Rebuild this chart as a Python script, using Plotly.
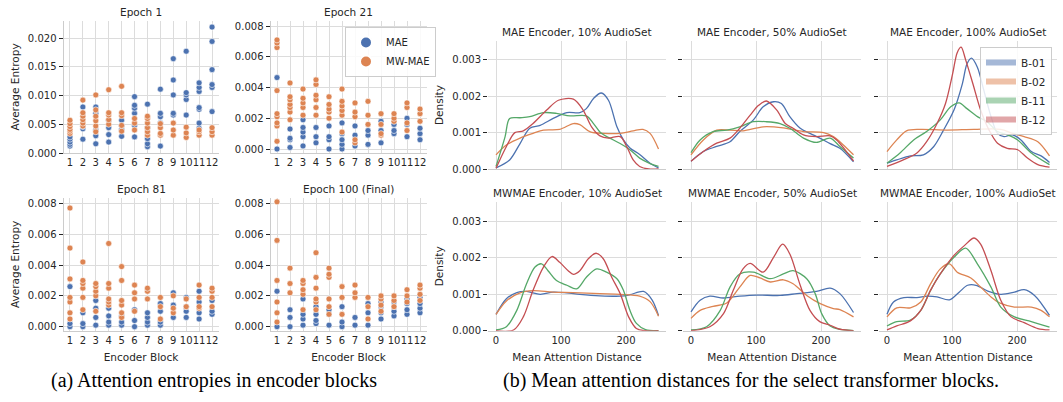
import plotly.graph_objects as go
import numpy as np

# ---------------- DATA ----------------
BLOCKS = list(range(1, 13))

# Average entropy per encoder block (several heads per block)
E1_MAE = [[0.0012, 0.0015, 0.0019, 0.0024, 0.0028], [0.0024, 0.0042, 0.0046, 0.0068, 0.0080],
          [0.0016, 0.0030, 0.0040, 0.0069, 0.0080], [0.0019, 0.0032, 0.0044, 0.0057],
          [0.0029, 0.0041, 0.0048, 0.0057], [0.0028, 0.0048, 0.0069, 0.0078, 0.0083, 0.0098],
          [0.0011, 0.0016, 0.0025, 0.0044, 0.0085], [0.0012, 0.0052, 0.0063, 0.0069, 0.0111],
          [0.0066, 0.0069, 0.0101, 0.0127, 0.0164], [0.0066, 0.0093, 0.0101, 0.0105, 0.0177],
          [0.0043, 0.0052, 0.0076, 0.0079, 0.0107, 0.0114, 0.0122],
          [0.0072, 0.0114, 0.0119, 0.0145, 0.0194, 0.0219]]
E1_MW = [[0.0034, 0.0038, 0.0041, 0.0046, 0.0051, 0.0057], [0.0047, 0.0052, 0.0058, 0.0064, 0.0070, 0.0092],
         [0.0037, 0.0047, 0.0056, 0.0064, 0.0075, 0.0101], [0.0050, 0.0058, 0.0066, 0.0070, 0.0110],
         [0.0038, 0.0048, 0.0065, 0.0070, 0.0116], [0.0040, 0.0052, 0.0060],
         [0.0031, 0.0037, 0.0044, 0.0052, 0.0060, 0.0064], [0.0031, 0.0034, 0.0044, 0.0051],
         [0.0031, 0.0040, 0.0052], [0.0027, 0.0035, 0.0045], [0.0031, 0.0037, 0.0040],
         [0.0031, 0.0037, 0.0044]]

E21_MAE = [[0.0000, 0.00465], [0.0001, 0.0006, 0.0007, 0.0013], [0.0002, 0.0008, 0.0011, 0.0014, 0.0019],
           [0.0004, 0.0008, 0.0014], [0.0000, 0.0006, 0.0008, 0.0015], [0.0000, 0.0003, 0.0006, 0.0010, 0.0017],
           [0.0002, 0.0009, 0.0015], [0.0003, 0.0009, 0.0012], [0.0004, 0.0012, 0.0018],
           [0.0010, 0.0012, 0.0016], [0.0008, 0.0016, 0.0020], [0.0006, 0.0010, 0.00135]]
E21_MW = [[0.0005, 0.0015, 0.0017, 0.0021, 0.0023, 0.0038, 0.0066, 0.0069, 0.0071],
          [0.0019, 0.0024, 0.0027, 0.0029, 0.0032, 0.0034, 0.0043],
          [0.0022, 0.0027, 0.0030, 0.0033, 0.0039], [0.0022, 0.0027, 0.0032, 0.0035, 0.0042, 0.0045],
          [0.0020, 0.0024, 0.0026, 0.0029, 0.0034], [0.0011, 0.0022, 0.0025, 0.0028, 0.0031, 0.0039],
          [0.0004, 0.0006, 0.0021, 0.0024, 0.0030], [0.0016, 0.0022, 0.0031],
          [0.0009, 0.0010, 0.0016, 0.0023], [0.0018, 0.0020, 0.0023], [0.0012, 0.0017, 0.0027, 0.0030],
          [0.0018, 0.0023, 0.0026]]

E81_MAE = [[0.0000, 0.0002, 0.0026], [0.0000, 0.0002, 0.0009], [0.0001, 0.0006, 0.0012, 0.0017],
           [0.0001, 0.0003, 0.0007, 0.0012], [0.0001, 0.0003, 0.0007], [0.0000, 0.0004, 0.0011],
           [0.0001, 0.0003, 0.0006, 0.0009], [0.0001, 0.0003, 0.0010, 0.0015], [0.0006, 0.0014, 0.0022],
           [0.0006, 0.0010, 0.0013, 0.0019], [0.0005, 0.0009, 0.0016, 0.0023], [0.0008, 0.0010, 0.0017]]
E81_MW = [[0.0005, 0.0009, 0.0016, 0.0019, 0.0031, 0.0051, 0.0077], [0.0011, 0.0019, 0.0025, 0.0028, 0.0030, 0.0042],
          [0.0010, 0.0020, 0.0023, 0.0026, 0.0028], [0.0014, 0.0016, 0.0018, 0.0025, 0.0028, 0.0054],
          [0.0006, 0.0009, 0.0014, 0.0017, 0.0030, 0.0039], [0.0010, 0.0018, 0.0022, 0.0027],
          [0.0018, 0.0023, 0.0025], [0.0005, 0.0013, 0.0019], [0.0009, 0.0012, 0.0020],
          [0.0013, 0.0018], [0.0012, 0.0013, 0.0019, 0.0027], [0.0013, 0.0019, 0.0023, 0.0025]]

E100_MAE = [[0.0000, 0.0023], [0.0000, 0.0006, 0.0011], [0.0001, 0.0005, 0.0008, 0.0018],
            [0.0002, 0.0004, 0.0008, 0.0013], [0.0001, 0.0008, 0.0011], [0.0000, 0.0003, 0.0013],
            [0.0001, 0.0006], [0.0001, 0.0009, 0.0015], [0.0005, 0.0009, 0.0013, 0.0016],
            [0.0007, 0.0010, 0.0013, 0.0016], [0.0008, 0.0011, 0.0015, 0.0018], [0.0009, 0.0012, 0.0015, 0.0019]]
E100_MW = [[0.0003, 0.0009, 0.0016, 0.0030, 0.0056, 0.0081], [0.0022, 0.0028, 0.0038],
           [0.0011, 0.0021, 0.0024, 0.0028, 0.0030], [0.0011, 0.0016, 0.0018, 0.0025, 0.0032, 0.0048],
           [0.0008, 0.0013, 0.0018, 0.0032, 0.0034, 0.0038], [0.0008, 0.0019, 0.0026],
           [0.0019, 0.0022, 0.0027], [0.0005, 0.0013, 0.0019], [0.0010, 0.0014, 0.0018, 0.0020],
           [0.0013, 0.0017, 0.0020], [0.0016, 0.0020, 0.0024], [0.0017, 0.0021, 0.0025, 0.0027]]

EPOCH_TITLES = ["Epoch 1", "Epoch 21", "Epoch 81", "Epoch 100 (Final)"]

# Mean attention distance KDE curves: (distance, density x1e-3)
MAE10_B01 = [(0, 0.03), (21, 0.25), (37, 0.7), (52, 1.12), (68, 1.2), (88, 1.39), (109, 1.55), (129, 1.55), (139, 1.66), (150, 1.94), (162, 2.09), (173, 1.89), (186, 1.16), (196, 0.8), (206, 0.58), (221, 0.4), (237, 0.16), (250, 0.03)]
MAE10_B02 = [(0, 0.39), (16, 0.66), (37, 0.85), (57, 0.98), (73, 1.07), (98, 1.09), (119, 1.25), (129, 1.22), (145, 1.02), (165, 0.98), (191, 0.98), (211, 1.05), (226, 1.09), (237, 0.98), (250, 0.55)]
MAE10_B11 = [(0, 0.07), (14, 0.89), (21, 1.39), (37, 1.41), (52, 1.44), (73, 1.55), (93, 1.53), (114, 1.46), (139, 1.46), (150, 1.25), (162, 0.98), (175, 0.85), (191, 0.7), (206, 0.53), (221, 0.3), (237, 0.15), (250, 0.07)]
MAE10_B12 = [(0, 0.02), (16, 0.62), (29, 1.0), (42, 1.05), (57, 1.25), (78, 1.62), (96, 1.89), (119, 1.92), (134, 1.62), (147, 1.16), (160, 0.91), (173, 0.85), (191, 0.89), (201, 0.62), (211, 0.25), (221, 0.07), (235, 0.0), (250, 0.0)]

MAE50_B01 = [(0, 0.21), (19, 0.48), (39.5, 0.62), (60, 0.75), (75, 1.03), (96, 1.35), (111, 1.71), (127, 1.85), (139, 1.8), (152, 1.44), (168, 1.12), (183, 0.98), (198, 0.85), (214, 0.7), (229, 0.57), (250, 0.2)]
MAE50_B02 = [(0, 0.39), (19, 0.8), (39.5, 1.07), (60, 1.07), (80, 1.05), (111, 1.16), (142, 1.13), (173, 1.03), (204, 1.0), (219, 0.89), (229, 0.75), (250, 0.39)]
MAE50_B11 = [(0, 0.45), (14, 0.8), (34, 1.03), (55, 1.07), (75, 1.16), (96, 1.3), (116, 1.3), (137, 1.25), (152, 1.12), (173, 0.85), (193, 0.73), (214, 0.85), (229, 0.62), (250, 0.3)]
MAE50_B12 = [(0, 0.21), (19, 0.48), (39.5, 0.71), (60, 0.85), (75, 1.12), (91, 1.48), (104, 1.75), (116, 1.87), (132, 1.62), (145, 1.25), (157, 1.12), (173, 0.94), (193, 0.89), (214, 0.91), (224, 0.8), (250, 0.22)]

MAE100_B01 = [(0, 0.16), (15, 0.25), (36, 0.36), (56, 0.39), (72, 0.62), (87, 1.07), (103, 1.62), (116, 2.35), (123, 2.89), (130, 3.05), (139, 2.8), (149, 2.16), (160, 1.44), (170, 0.98), (180, 0.89), (193, 0.94), (206, 0.8), (222, 0.48), (237, 0.36), (250, 0.18)]
MAE100_B02 = [(0, 0.48), (15, 0.8), (30, 1.05), (51, 1.09), (92, 1.07), (134, 1.09), (175, 1.09), (193, 0.98), (211, 0.89), (232, 0.75), (250, 0.36)]
MAE100_B11 = [(0, 0.16), (20, 0.44), (41, 0.8), (61, 1.03), (82, 1.35), (98, 1.71), (111, 1.82), (123, 1.66), (139, 1.44), (154, 1.3), (170, 1.03), (185, 0.94), (201, 0.8), (222, 0.44), (250, 0.12)]
MAE100_B12 = [(0, 0.07), (25, 0.25), (46, 0.44), (61, 0.75), (77, 1.25), (90, 1.8), (101, 2.62), (108, 3.2), (114, 3.35), (121, 3.0), (132, 2.35), (144, 1.62), (157, 1.07), (170, 0.71), (185, 0.57), (201, 0.53), (216, 0.3), (232, 0.12), (250, 0.05)]

MW10_B01 = [(0, 0.45), (16, 0.88), (32, 1.05), (47, 1.08), (68, 1.0), (88, 1.06), (109, 1.04), (129, 1.0), (160, 0.96), (191, 0.95), (206, 0.99), (227, 1.08), (240, 0.85), (250, 0.42)]
MW10_B02 = [(0, 0.45), (16, 0.82), (37, 1.04), (57, 1.1), (88, 1.06), (119, 1.05), (160, 1.02), (191, 1.0), (221, 0.95), (237, 0.8), (250, 0.4)]
MW10_B11 = [(0, 0.02), (16, 0.11), (32, 0.56), (47, 1.29), (60, 1.75), (70, 1.84), (80, 1.65), (93, 1.38), (109, 1.25), (124, 1.15), (139, 1.47), (155, 1.7), (170, 1.61), (186, 1.43), (196, 1.11), (206, 0.56), (216, 0.2), (230, 0.03), (250, 0.0)]
MW10_B12 = [(0, 0.0), (27, 0.02), (42, 0.38), (57, 1.11), (73, 1.75), (86, 2.04), (98, 1.88), (111, 1.65), (119, 1.55), (129, 1.65), (142, 1.98), (154, 2.13), (165, 1.98), (178, 1.47), (191, 1.02), (204, 0.38), (216, 0.06), (230, 0.0), (250, 0.0)]

MW50_B01 = [(0, 0.52), (14, 0.84), (29, 0.95), (50, 0.9), (75, 0.95), (101, 0.98), (137, 0.97), (163, 1.02), (193, 1.08), (214, 1.17), (229, 1.02), (250, 0.5)]
MW50_B02 = [(0, 0.34), (14, 0.56), (34, 0.67), (55, 0.76), (75, 1.2), (91, 1.52), (106, 1.45), (122, 1.34), (142, 1.4), (157, 1.29), (178, 0.97), (198, 0.75), (219, 0.61), (229, 0.58), (250, 0.38)]
MW50_B11 = [(0, 0.02), (24, 0.11), (45, 0.56), (60, 1.2), (75, 1.56), (96, 1.61), (122, 1.43), (142, 1.56), (157, 1.65), (178, 1.43), (191, 1.02), (201, 0.47), (214, 0.13), (229, 0.04), (250, 0.0)]
MW50_B12 = [(0, 0.0), (29, 0.11), (50, 0.47), (65, 1.11), (80, 1.7), (91, 1.85), (111, 1.61), (127, 2.02), (141, 2.38), (152, 2.11), (168, 1.25), (183, 0.56), (198, 0.25), (214, 0.15), (229, 0.04), (250, 0.0)]

MW100_B01 = [(0, 0.45), (10, 0.79), (26, 0.91), (46, 0.91), (62, 0.95), (77, 0.93), (96, 0.85), (111, 1.06), (124, 1.25), (137, 1.25), (155, 1.09), (175, 1.0), (196, 1.06), (211, 1.13), (227, 0.97), (250, 0.42)]
MW100_B02 = [(0, 0.38), (15, 0.63), (36, 0.63), (52, 0.79), (67, 1.29), (82, 1.7), (96, 1.84), (108, 1.61), (129, 1.45), (144, 1.2), (160, 0.93), (175, 0.75), (196, 0.65), (222, 0.65), (237, 0.56), (250, 0.38)]
MW100_B11 = [(0, 0.13), (15, 0.25), (36, 0.29), (52, 0.56), (67, 1.11), (82, 1.56), (103, 2.02), (121, 2.27), (139, 1.84), (160, 1.2), (175, 0.65), (196, 0.38), (222, 0.25), (250, 0.1)]
MW100_B12 = [(0, 0.02), (15, 0.13), (36, 0.27), (52, 0.56), (67, 1.11), (82, 1.56), (103, 2.07), (119, 2.34), (134, 2.55), (144, 2.38), (160, 1.65), (175, 0.84), (191, 0.38), (211, 0.22), (232, 0.06), (250, 0.02)]

BLOCK_NAMES = ["B-01", "B-02", "B-11", "B-12"]
PANEL_TITLES = ["MAE Encoder, 10% AudioSet", "MAE Encoder, 50% AudioSet", "MAE Encoder, 100% AudioSet",
                "MWMAE Encoder, 10% AudioSet", "MWMAE Encoder, 50% AudioSet", "MWMAE Encoder, 100% AudioSet"]
PANEL_CURVES = [[MAE10_B01, MAE10_B02, MAE10_B11, MAE10_B12],
                [MAE50_B01, MAE50_B02, MAE50_B11, MAE50_B12],
                [MAE100_B01, MAE100_B02, MAE100_B11, MAE100_B12],
                [MW10_B01, MW10_B02, MW10_B11, MW10_B12],
                [MW50_B01, MW50_B02, MW50_B11, MW50_B12],
                [MW100_B01, MW100_B02, MW100_B11, MW100_B12]]

# ---------------- STYLE ----------------
W, H = 1063, 402
BLUE, ORANGE, GREEN, RED = "#4C72B0", "#DD8452", "#55A868", "#C44E52"
LINE_COLORS = [BLUE, ORANGE, GREEN, RED]
PATCH_COLORS = ["rgba(76,114,176,0.5)", "rgba(221,132,82,0.5)", "rgba(85,168,104,0.5)", "rgba(196,78,82,0.5)"]
TXT = "#262626"
GRID = "#dcdcdc"
SPINE = "#cccccc"
FONT = "DejaVu Sans"


def fx(px):
    return px / W


def fy(py):
    return 1 - py / H


fig = go.Figure()
layout = {}
annotations = []

# ---------- left: scatter panels ----------
left_specs = [
    (E1_MAE, E1_MW, (63.5, 218.5), (153, 21), [0, 0.02296], [0, 0.005, 0.01, 0.015, 0.02]),
    (E21_MAE, E21_MW, (270.5, 426.5), (153, 21), [-0.00026, 0.00833], [0, 0.002, 0.004, 0.006, 0.008]),
    (E81_MAE, E81_MW, (63.5, 218.5), (330.7, 198), [-0.00026, 0.00835], [0, 0.002, 0.004, 0.006, 0.008]),
    (E100_MAE, E100_MW, (270.5, 426.5), (330.7, 198), [-0.00026, 0.00835], [0, 0.002, 0.004, 0.006, 0.008]),
]

for i, (mae, mw, xd, yd, yr, yt) in enumerate(left_specs):
    n = i + 1
    xa = "x" if n == 1 else f"x{n}"
    ya = "y" if n == 1 else f"y{n}"
    for vals, name, col in [(mae, "MAE", BLUE), (mw, "MW-MAE", ORANGE)]:
        xs, ys = [], []
        for b, lst in zip(BLOCKS, vals):
            xs += [b] * len(lst)
            ys += lst
        fig.add_trace(go.Scatter(
            x=xs, y=ys, mode="markers", name=name, xaxis=xa, yaxis=ya,
            marker=dict(color=col, size=6, line=dict(color="white", width=0.6)),
            showlegend=(n == 2), legend="legend", cliponaxis=False))
    layout["xaxis" if n == 1 else f"xaxis{n}"] = dict(
        domain=[fx(xd[0]), fx(xd[1])], anchor=ya, range=[0.5, 12.5],
        tickvals=BLOCKS, ticktext=[str(b) for b in BLOCKS], tickangle=0,
        tickfont=dict(size=10, color=TXT, family=FONT),
        showgrid=True, gridcolor=GRID, gridwidth=1, showline=True, linecolor=SPINE, linewidth=1,
        ticks="", zeroline=False, automargin=False,
        title=dict(text="Encoder Block" if n >= 3 else "", font=dict(size=10.5, color=TXT, family=FONT), standoff=8))
    layout["yaxis" if n == 1 else f"yaxis{n}"] = dict(
        domain=[fy(yd[0]), fy(yd[1])], anchor=xa, range=yr, tickvals=yt, tickformat=".3f",
        tickfont=dict(size=10, color=TXT, family=FONT),
        showgrid=True, gridcolor=GRID, gridwidth=1, showline=True, linecolor=SPINE, linewidth=1,
        ticks="outside", ticklen=4, tickcolor=TXT, tickwidth=1, zeroline=False, automargin=False,
        title=dict(text="Average Entropy" if n in (1, 3) else "", font=dict(size=10.5, color=TXT, family=FONT), standoff=6))
    annotations.append(dict(text=EPOCH_TITLES[i], x=fx((xd[0] + xd[1]) / 2), y=fy(yd[1] - 9),
                            xref="paper", yref="paper", showarrow=False, xanchor="center", yanchor="middle",
                            font=dict(size=10.5, color=TXT, family=FONT)))

# ---------- right: KDE panels ----------
right_x = [(488, 666), (683, 861), (879, 1057)]
right_y = [(169, 41, 0.00352), (330.7, 202, 0.00354)]

for p in range(6):
    n = 5 + p
    row, col = divmod(p, 3)
    xd = right_x[col]
    yb, yt_, ymax = right_y[row]
    xa, ya = f"x{n}", f"y{n}"
    for k, curve in enumerate(PANEL_CURVES[p]):
        xs = [c[0] for c in curve]
        ys = np.array([c[1] for c in curve]) * 1e-3
        fig.add_trace(go.Scatter(
            x=xs, y=ys, mode="lines", xaxis=xa, yaxis=ya, showlegend=False,
            line=dict(color=LINE_COLORS[k], width=1.3, shape="spline", smoothing=0.9)))
    layout[f"xaxis{n}"] = dict(
        domain=[fx(xd[0]), fx(xd[1])], anchor=ya, range=[-12.3, 261.5],
        tickvals=[0, 100, 200], showticklabels=(row == 1), tickangle=0,
        tickfont=dict(size=10, color=TXT, family=FONT),
        showgrid=True, gridcolor=GRID, gridwidth=1, showline=True, linecolor=SPINE, linewidth=1,
        ticks="", zeroline=False, automargin=False,
        title=dict(text="Mean Attention Distance" if row == 1 else "",
                   font=dict(size=10.5, color=TXT, family=FONT), standoff=8))
    layout[f"yaxis{n}"] = dict(
        domain=[fy(yb), fy(yt_)], anchor=xa, range=[0, ymax],
        tickvals=[0, 0.001, 0.002, 0.003], tickformat=".3f", showticklabels=(col == 0),
        tickfont=dict(size=10, color=TXT, family=FONT),
        showgrid=True, gridcolor=GRID, gridwidth=1, showline=False,
        ticks="outside", ticklen=4, tickcolor=TXT, tickwidth=1, zeroline=False, automargin=False,
        title=dict(text="Density" if col == 0 else "", font=dict(size=10.5, color=TXT, family=FONT), standoff=6))
    annotations.append(dict(text=PANEL_TITLES[p], x=fx((xd[0] + xd[1]) / 2), y=fy(yt_ - 9),
                            xref="paper", yref="paper", showarrow=False, xanchor="center", yanchor="middle",
                            font=dict(size=10.5, color=TXT, family=FONT)))

# legend entries for the block curves (patches)
for k, name in enumerate(BLOCK_NAMES):
    fig.add_trace(go.Scatter(x=[None], y=[None], mode="lines", name=name, xaxis="x7", yaxis="y7",
                             line=dict(color=PATCH_COLORS[k], width=6), legend="legend2", showlegend=True))

# captions
annotations.append(dict(text="(a) Attention entropies in encoder blocks", x=fx(214), y=fy(380),
                        xref="paper", yref="paper", showarrow=False, xanchor="center", yanchor="middle",
                        font=dict(size=20, color="black", family="Liberation Serif")))
annotations.append(dict(text="(b) Mean attention distances for the select transformer blocks.", x=fx(751), y=fy(380),
                        xref="paper", yref="paper", showarrow=False, xanchor="center", yanchor="middle",
                        font=dict(size=20, color="black", family="Liberation Serif")))

fig.update_layout(
    width=W, height=H, margin=dict(l=0, r=0, t=0, b=0, autoexpand=False),
    paper_bgcolor="white", plot_bgcolor="white",
    font=dict(family=FONT, color=TXT, size=10),
    annotations=annotations,
    legend=dict(x=fx(345), y=fy(27), xanchor="left", yanchor="top", bgcolor="rgba(255,255,255,0.85)",
                bordercolor=SPINE, borderwidth=1, font=dict(size=10, color=TXT, family=FONT),
                itemsizing="constant", tracegroupgap=0, itemwidth=30),
    legend2=dict(x=fx(1052), y=fy(47), xanchor="right", yanchor="top", bgcolor="rgba(255,255,255,0.85)",
                 bordercolor=SPINE, borderwidth=1, font=dict(size=10.5, color=TXT, family=FONT),
                 tracegroupgap=0, itemwidth=30),
    **layout,
)

fig.write_html("out.html", config={"displayModeBar": False},
               post_script="document.body.style.margin='0';document.body.style.overflow='hidden';")
